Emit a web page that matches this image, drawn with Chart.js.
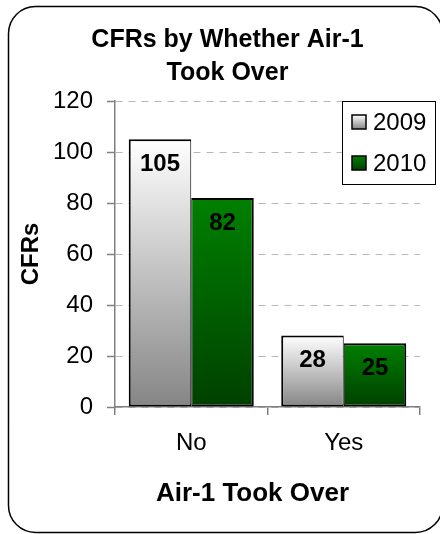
<!DOCTYPE html>
<html>
<head>
<meta charset="utf-8">
<script src="https://cdn.jsdelivr.net/npm/chart.js@4.4.1/dist/chart.umd.min.js"></script>
<style>
  html, body { margin: 0; padding: 0; background: #ffffff; }
  #wrap { width: 440px; height: 534px; }
</style>
</head>
<body>
<div id="wrap"><canvas id="chart" width="440" height="534"></canvas></div>
<script>
// Calls for service, split by whether Air-1 took over the call
const categories = ['No', 'Yes'];
const seriesNames = ['2009', '2010'];
const cfrs2009 = [105, 28];
const cfrs2010 = [82, 25];
const yTickValues = [0, 20, 40, 60, 80, 100, 120];
const xAxisTitle = 'Air-1 Took Over';

const FONT = "'Liberation Sans', Arial, Helvetica, sans-serif";
Chart.defaults.font.family = FONT;
Chart.defaults.color = '#000000';

// gradient stops (top colour, bottom colour) for each series
const fills = [
  ['#ffffff', '#858585'],
  ['#008000', '#004000']
];

// vertical gradient spanning each bar from its top to the zero line
function barGradient(stops) {
  return (ctx) => {
    const chart = ctx.chart;
    const { chartArea, scales } = chart;
    if (!chartArea || !scales.y || ctx.type !== 'data') return stops[1];
    const top = scales.y.getPixelForValue(ctx.raw);
    const base = scales.y.getPixelForValue(0);
    const g = chart.ctx.createLinearGradient(0, top, 0, base);
    g.addColorStop(0, stops[0]);
    g.addColorStop(1, stops[1]);
    return g;
  };
}

// rounded outline around the whole chart
const frame = {
  id: 'frame',
  afterDraw(chart) {
    const c = chart.ctx;
    c.save();
    c.lineWidth = 1.5;
    c.strokeStyle = '#000000';
    c.beginPath();
    c.roundRect(8.5, 6.5, 434, 526, 27);
    c.stroke();
    c.restore();
  }
};

// category axis title, set a little left of the plot centre
const xTitle = {
  id: 'xTitle',
  afterDraw(chart) {
    const c = chart.ctx;
    const area = chart.chartArea;
    c.save();
    c.font = 'bold 26px ' + FONT;
    c.fillStyle = '#000000';
    c.textAlign = 'center';
    c.textBaseline = 'middle';
    c.fillText(xAxisTitle, (area.left + area.right) / 2 - 15, area.bottom + 87);
    c.restore();
  }
};

// value printed inside the top of each bar
const valueLabels = {
  id: 'valueLabels',
  afterDatasetsDraw(chart) {
    const c = chart.ctx;
    c.save();
    c.font = 'bold 24px ' + FONT;
    c.fillStyle = '#000000';
    c.textAlign = 'center';
    c.textBaseline = 'middle';
    chart.data.datasets.forEach((ds, di) => {
      chart.getDatasetMeta(di).data.forEach((bar, i) => {
        c.fillText(String(ds.data[i]), bar.x, bar.y + 25);
      });
    });
    c.restore();
  }
};

// boxed legend sitting in the upper right corner of the plot
const cornerLegend = {
  id: 'cornerLegend',
  afterDatasetsDraw(chart) {
    const c = chart.ctx;
    const area = chart.chartArea;
    const left = area.right - 78, top = area.top, w = 94, h = 84;
    c.save();
    c.fillStyle = '#ffffff';
    c.fillRect(left, top, w, h);
    c.lineWidth = 1;
    c.strokeStyle = '#000000';
    c.strokeRect(left + 0.5, top + 0.5, w - 1, h - 1);
    c.font = '24px ' + FONT;
    c.textBaseline = 'middle';
    c.textAlign = 'left';
    chart.data.datasets.forEach((ds, i) => {
      const cy = top + 21 + i * 41;
      const sx = left + 10, sy = cy - 7, s = 14;
      const g = c.createLinearGradient(0, sy, 0, sy + s);
      g.addColorStop(0, fills[i][0]);
      g.addColorStop(1, fills[i][1]);
      c.fillStyle = g;
      c.fillRect(sx, sy, s, s);
      c.lineWidth = 1.5;
      c.strokeStyle = '#000000';
      c.strokeRect(sx, sy, s, s);
      c.fillStyle = '#000000';
      c.fillText(ds.label, left + 31, cy + 1);
    });
    c.restore();
  }
};

const barBorder0 = { top: 2, left: 2, right: 1, bottom: 2 };
const barBorder1 = { top: 2, left: 1, right: 2, bottom: 2 };

new Chart(document.getElementById('chart'), {
  type: 'bar',
  data: {
    labels: categories,
    datasets: [
      {
        label: seriesNames[0],
        data: cfrs2009,
        backgroundColor: barGradient(fills[0]),
        borderColor: '#000000',
        borderWidth: barBorder0,
        borderSkipped: false
      },
      {
        label: seriesNames[1],
        data: cfrs2010,
        backgroundColor: barGradient(fills[1]),
        borderColor: '#000000',
        borderWidth: barBorder1,
        borderSkipped: false
      }
    ]
  },
  options: {
    responsive: false,
    animation: false,
    events: [],
    layout: { padding: { left: 35, right: 20, top: 0, bottom: 25 } },
    datasets: { bar: { barPercentage: 1.0, categoryPercentage: 0.82 } },
    plugins: {
      legend: { display: false },
      tooltip: { enabled: false },
      title: {
        display: true,
        text: ['CFRs by Whether Air-1', 'Took Over'],
        color: '#000000',
        font: { size: 25, weight: 'bold', lineHeight: 1.32 },
        padding: { top: 23.5, bottom: 11.5 }
      }
    },
    scales: {
      x: {
        grid: {
          display: true,
          drawOnChartArea: false,
          drawTicks: true,
          tickLength: 8,
          color: '#808080',
          lineWidth: 1.5
        },
        border: { display: true, color: '#808080', width: 1.5 },
        ticks: { color: '#000000', font: { size: 24 }, padding: 13.5 },
        title: { display: false },
        afterFit(scale) { scale.height = 102; }
      },
      y: {
        min: 0,
        max: 120,
        afterBuildTicks(scale) { scale.ticks = yTickValues.map(v => ({ value: v })); },
        grid: {
          color: '#b8b8b8',
          lineWidth: 1,
          drawTicks: true,
          tickLength: 8,
          tickColor: '#808080',
          tickWidth: 1.5,
          tickBorderDash: []
        },
        border: { display: true, color: '#808080', width: 1.5, dash: [7, 6] },
        ticks: { color: '#000000', font: { size: 24 }, padding: 14 },
        title: {
          display: true,
          text: 'CFRs',
          color: '#000000',
          font: { size: 24, weight: 'bold', lineHeight: 1.2 },
          padding: { top: -18.4, bottom: 0 }
        },
        afterFit(scale) { scale.width = 80; }
      }
    }
  },
  plugins: [frame, xTitle, valueLabels, cornerLegend]
});
</script>
</body>
</html>
